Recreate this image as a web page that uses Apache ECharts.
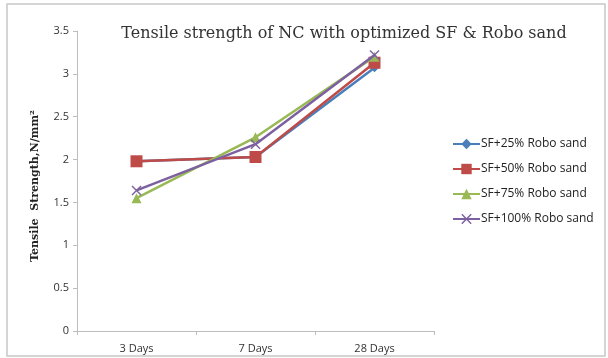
<!DOCTYPE html>
<html><head><meta charset="utf-8">
<script src="https://cdn.jsdelivr.net/npm/echarts@6/dist/echarts.min.js"></script>
<style>html,body{margin:0;padding:0;background:#fff}#c{width:608px;height:358px}</style>
</head><body><div id="c"></div>
<script>
const categories = ['3 Days', '7 Days', '28 Days'];
const seriesNames = ['SF+25% Robo sand', 'SF+50% Robo sand', 'SF+75% Robo sand', 'SF+100% Robo sand'];
const sf25 = [1.98, 2.03, 3.07];
const sf50 = [1.98, 2.03, 3.13];
const sf75 = [1.55, 2.26, 3.2];
const sf100 = [1.64, 2.18, 3.22];
const yTicks = [0, 0.5, 1, 1.5, 2, 2.5, 3, 3.5];

const colors = ['#4A7EBB', '#BE4B48', '#98B954', '#7D60A0'];
const symbols = ['diamond', 'rect', 'triangle', 'path://M1,0 L5,4 L9,0 L10,1 L6,5 L10,9 L9,10 L5,6 L1,10 L0,9 L4,5 L0,1 Z'];
const sizes = [9, 12, 10, 10];
const data = [sf25, sf50, sf75, sf100];

const chart = echarts.init(document.getElementById('c'), null, {renderer: 'canvas'});
chart.setOption({
  animation: false,
  backgroundColor: '#fff',
  graphic: [{type: 'rect', shape: {x: 7, y: 4, width: 598, height: 352}, style: {fill: 'none', stroke: '#c8c8c8', lineWidth: 1.5}, z: -1}],
  title: {
    text: 'Tensile strength of NC with optimized SF & Robo sand',
    left: 339, top: 21, textAlign: 'center',
    textStyle: {fontFamily: 'DejaVu Serif', fontSize: 16, fontWeight: 'normal', color: '#333'}
  },
  legend: {
    orient: 'vertical', left: 447, top: 133, itemGap: 13,
    itemWidth: 27, itemHeight: 13,
    textStyle: {fontFamily: 'Open Sans', fontSize: 12, color: '#222', padding: [0, 0, 0, -4]},
    data: seriesNames
  },
  grid: {left: 77, right: 174, top: 31, bottom: 27},
  xAxis: {
    type: 'category', data: categories, boundaryGap: true,
    axisLine: {lineStyle: {color: '#bdbdbd'}},
    axisTick: {show: true, lineStyle: {color: '#bdbdbd'}, length: 4},
    axisLabel: {fontFamily: 'Open Sans', fontSize: 11, color: '#333', margin: 12}
  },
  yAxis: {
    type: 'value', min: 0, max: 3.5, interval: 0.5,
    name: 'Tensile  Strength,N/mm\u00b2', nameLocation: 'middle', nameGap: 36,
    nameTextStyle: {fontFamily: 'DejaVu Serif', fontSize: 11, fontWeight: 'bold', color: '#222', padding: [0, 10, 0, 0]},
    splitLine: {show: false},
    axisLine: {show: true, lineStyle: {color: '#bdbdbd'}},
    axisTick: {show: true, lineStyle: {color: '#bdbdbd'}, length: 4},
    axisLabel: {fontFamily: 'Open Sans', fontSize: 11, color: '#333', margin: 8,
      formatter: v => yTicks.includes(v) ? String(v) : ''}
  },
  series: data.map((d, i) => ({
    name: seriesNames[i], type: 'line', data: d,
    symbol: symbols[i], symbolSize: sizes[i], showAllSymbol: true,
    itemStyle: {color: colors[i]},
    lineStyle: {color: colors[i], width: 2.5},
    z: 2 + i
  }))
});
</script></body></html>
